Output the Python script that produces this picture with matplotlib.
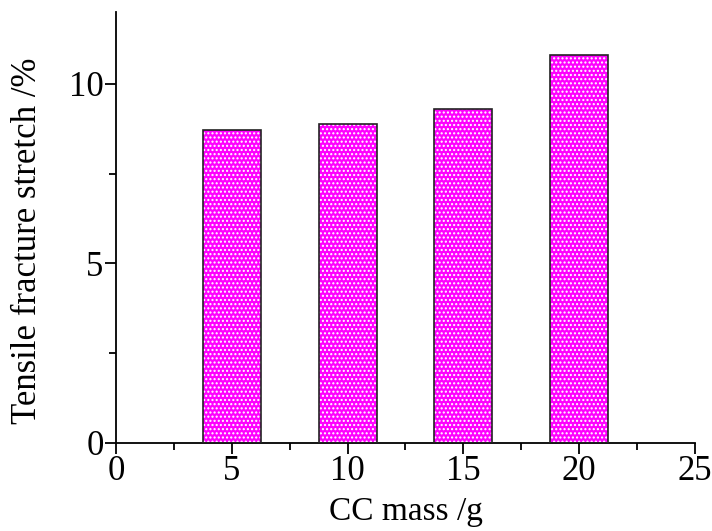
import matplotlib
matplotlib.use("Agg")
import matplotlib.pyplot as plt
from matplotlib.ticker import MultipleLocator

plt.rcParams["font.family"] = ["Liberation Serif", "DejaVu Serif"]
plt.rcParams["hatch.linewidth"] = 1.0

# data
cc_mass = [5, 10, 15, 20]
stretch = [8.72, 8.89, 9.30, 10.81]

fig = plt.figure(figsize=(7.12, 5.31), dpi=100)
ax = fig.add_axes([0.163, 0.166, 0.813, 0.811])

# magenta fill with white dot pattern, then dark outline on top
ax.bar(cc_mass, stretch, width=2.5, color="#ff00ff", edgecolor="white",
       hatch="....", linewidth=0, zorder=2)
ax.bar(cc_mass, stretch, width=2.5, fill=False, edgecolor="#222222",
       linewidth=1.2, zorder=3)

ax.set_xlim(0, 25)
ax.set_ylim(0, 12)
ax.xaxis.set_major_locator(MultipleLocator(5))
ax.xaxis.set_minor_locator(MultipleLocator(2.5))
ax.yaxis.set_major_locator(MultipleLocator(5))
ax.yaxis.set_minor_locator(MultipleLocator(2.5))

for side in ("top", "right"):
    ax.spines[side].set_visible(False)
for side in ("left", "bottom"):
    ax.spines[side].set_linewidth(1.3)

ax.tick_params(which="major", direction="out", length=8, width=1.3,
               labelsize=25, pad=1)
ax.tick_params(which="minor", direction="out", length=5, width=1.3)

ax.set_xlabel("CC mass /g", fontsize=24, labelpad=6)
ax.set_ylabel("Tensile fracture stretch /%", fontsize=25)
ax.yaxis.set_label_coords(-0.124, 0.47)

fig.savefig("out.png", dpi=100)
